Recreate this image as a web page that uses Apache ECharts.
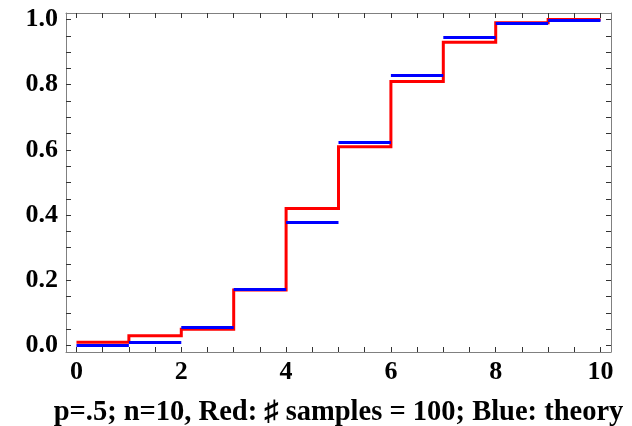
<!DOCTYPE html>
<html><head><meta charset="utf-8">
<script src="https://cdn.jsdelivr.net/npm/echarts@6/dist/echarts.min.js"></script>
<style>html,body{margin:0;padding:0;background:#fff}#c{width:632px;height:426px}</style>
</head><body><div id="c"></div>
<script>
// Data
const ks = [0, 1, 2, 3, 4, 5, 6, 7, 8, 9, 10];
const redValues = [0.01, 0.03, 0.05, 0.17, 0.42, 0.61, 0.81, 0.93, 0.99, 1.0, 1.0];
const blueValues = [0.001, 0.011, 0.055, 0.172, 0.377, 0.623, 0.828, 0.945, 0.989, 0.999];
const xTickLabels = [0, 2, 4, 6, 8, 10];
const xTicks = [0, 0.5, 1, 1.5, 2, 2.5, 3, 3.5, 4, 4.5, 5, 5.5, 6, 6.5, 7, 7.5, 8, 8.5, 9, 9.5, 10];
const yTickLabels = [0, 0.2, 0.4, 0.6, 0.8, 1.0];
const yTicks = [0, 0.05, 0.1, 0.15, 0.2, 0.25, 0.3, 0.35, 0.4, 0.45, 0.5, 0.55, 0.6, 0.65, 0.7, 0.75, 0.8, 0.85, 0.9, 0.95, 1.0];
const caption = 'p=.5; n=10, Red: \u266F samples = 100; Blue: theory';

const font = "'Liberation Serif','Times New Roman',serif";
const frameColor = '#808080';
const labelStyle = { fontFamily: font, fontWeight: 'bold', fontSize: 26, color: '#000' };

function xAx(pos, showLabels) {
  return {
    type: 'value', min: -0.2, max: 10.2, position: pos,
    axisLine: { show: true, onZero: false, lineStyle: { color: frameColor, width: 1 } },
    axisTick: { show: true, inside: true, length: 5, customValues: xTicks, lineStyle: { color: '#333', width: 1 } },
    axisLabel: Object.assign({ show: showLabels, customValues: xTickLabels, margin: 7, formatter: v => String(v) }, labelStyle),
    splitLine: { show: false },
    name: showLabels ? caption : '',
    nameLocation: 'middle', nameGap: 46,
    nameTextStyle: { fontFamily: font, fontWeight: 'bold', fontSize: 28.5, color: '#000' }
  };
}
function yAx(pos, showLabels) {
  return {
    type: 'value', min: -0.02, max: 1.02, position: pos,
    axisLine: { show: true, onZero: false, lineStyle: { color: frameColor, width: 1 } },
    axisTick: { show: true, inside: true, length: 5, customValues: yTicks, lineStyle: { color: '#333', width: 1 } },
    axisLabel: Object.assign({ show: showLabels, customValues: yTickLabels, margin: 8, formatter: v => v.toFixed(1) }, labelStyle),
    splitLine: { show: false }
  };
}

const redData = ks.map((k, i) => [k, redValues[i]]);
const blueData = blueValues.map((v, i) => ({ coords: [[ks[i], v], [ks[i + 1], v]] }));

const chart = echarts.init(document.getElementById('c'));
chart.setOption({
  animation: false,
  backgroundColor: '#fff',
  grid: { left: 66, right: 21, top: 13, bottom: 74, containLabel: false, outerBoundsMode: 'none' },
  xAxis: [xAx('bottom', true), xAx('top', false)],
  yAxis: [yAx('left', true), yAx('right', false)],
  series: [
    {
      type: 'line', xAxisIndex: 0, yAxisIndex: 0, data: redData, step: 'end',
      showSymbol: false, symbol: 'none',
      lineStyle: { color: '#ff0000', width: 3, join: 'miter' }, z: 2
    },
    {
      type: 'lines', coordinateSystem: 'cartesian2d', xAxisIndex: 0, yAxisIndex: 0,
      data: blueData, polyline: false,
      lineStyle: { color: '#0000ff', width: 3, opacity: 1, curveness: 0, cap: 'butt' }, z: 3
    }
  ]
});
</script></body></html>
